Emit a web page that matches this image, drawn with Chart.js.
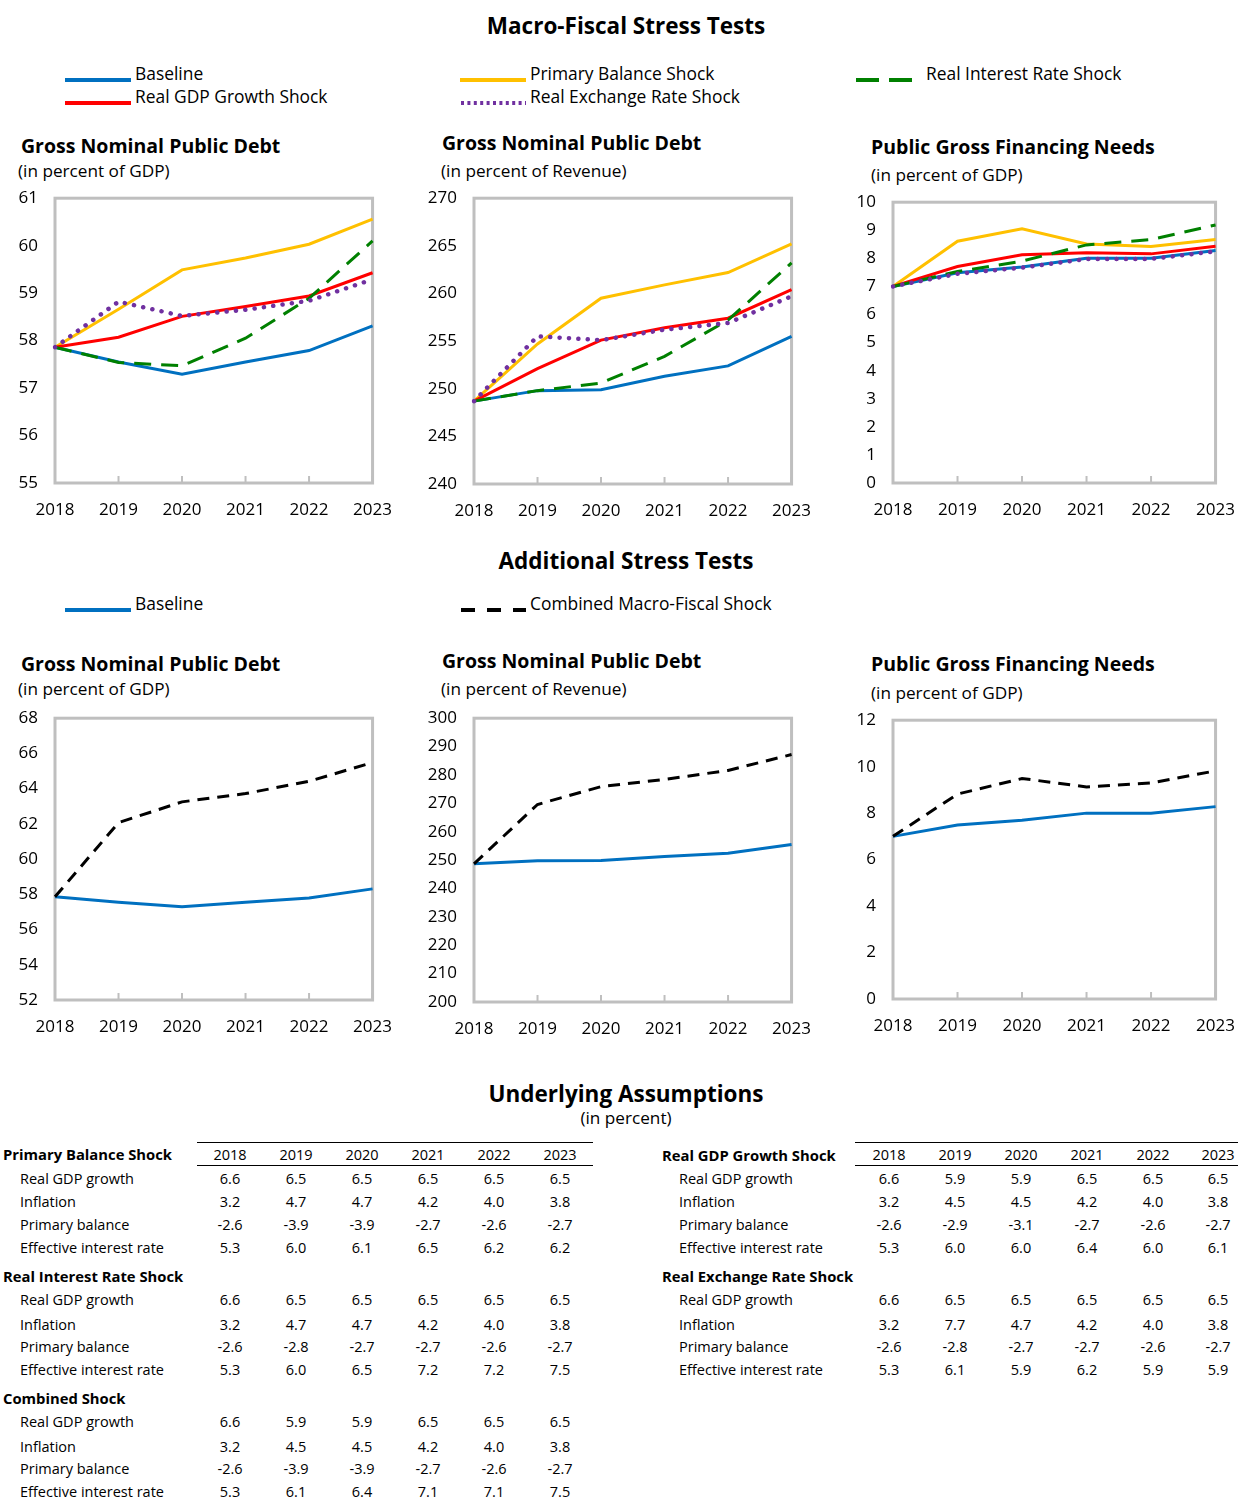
<!DOCTYPE html>
<html>
<head>
<meta charset="utf-8">
<script src="https://cdn.jsdelivr.net/npm/chart.js@4.4.1/dist/chart.umd.min.js"></script>
<style>
  body { margin: 0; background: #fff; font-family: 'Open Sans', sans-serif; color: #000; }
  #page { position: relative; width: 1238px; height: 1505px; overflow: hidden; }
  .t { position: absolute; white-space: nowrap; transform: translateY(-50%); line-height: 1.2; }
  .c { left: 7px; width: 1238px; text-align: center; }
  .h1 { font-size: 22.5px; font-weight: bold; }
  .h2 { font-size: 19.5px; font-weight: bold; }
  .sub { font-size: 17.2px; }
  .leg { font-size: 17.4px; }
  .tb { font-size: 14.5px; }
  .tbh { font-size: 14.8px; font-weight: bold; }
  .num { width: 60px; margin-left: -30px; text-align: center; }
  .chart { position: absolute; }
  .rule { position: absolute; height: 0; border-top: 1.5px solid #000; }
  .sw { position: absolute; }
</style>
</head>
<body>
<div id="page"></div>
<script>
const years = ['2018', '2019', '2020', '2021', '2022', '2023'];

// Gross nominal public debt, percent of GDP
const debtGdpBaseline = [57.86, 57.55, 57.29, 57.55, 57.79, 58.31];
const debtGdpPrimary  = [57.86, 58.66, 59.49, 59.74, 60.03, 60.56];
const debtGdpGrowth   = [57.86, 58.07, 58.51, 58.72, 58.94, 59.43];
const debtGdpInterest = [57.86, 57.54, 57.47, 58.05, 58.89, 60.10];
const debtGdpExchange = [57.86, 58.82, 58.52, 58.65, 58.84, 59.29];
const debtGdpCombined = [57.86, 62.07, 63.25, 63.72, 64.42, 65.48];

// Gross nominal public debt, percent of revenue
const debtRevBaseline = [248.7, 249.8, 249.9, 251.3, 252.4, 255.5];
const debtRevPrimary  = [248.7, 254.7, 259.5, 260.9, 262.2, 265.2];
const debtRevGrowth   = [248.7, 252.1, 255.1, 256.4, 257.4, 260.4];
const debtRevInterest = [248.7, 249.8, 250.6, 253.4, 257.2, 263.2];
const debtRevExchange = [248.7, 255.5, 255.1, 256.2, 256.9, 259.7];
const debtRevCombined = [248.7, 269.6, 275.9, 278.4, 281.6, 287.2];

// Public gross financing needs, percent of GDP
const gfnBaseline = [7.0, 7.49, 7.69, 8.0, 8.0, 8.28];
const gfnPrimary  = [7.0, 8.61, 9.05, 8.51, 8.42, 8.67];
const gfnGrowth   = [7.0, 7.71, 8.13, 8.20, 8.16, 8.43];
const gfnInterest = [7.0, 7.53, 7.90, 8.48, 8.67, 9.19];
const gfnExchange = [7.0, 7.45, 7.67, 7.98, 7.98, 8.25];
const gfnCombined = [7.0, 8.82, 9.49, 9.13, 9.30, 9.82];

// Underlying assumptions
const rowLabels = ['Real GDP growth', 'Inflation', 'Primary balance', 'Effective interest rate'];
const pbGrowth = [6.6, 6.5, 6.5, 6.5, 6.5, 6.5];
const pbInflation = [3.2, 4.7, 4.7, 4.2, 4.0, 3.8];
const pbPrimary = [-2.6, -3.9, -3.9, -2.7, -2.6, -2.7];
const pbInterest = [5.3, 6.0, 6.1, 6.5, 6.2, 6.2];
const riGrowth = [6.6, 6.5, 6.5, 6.5, 6.5, 6.5];
const riInflation = [3.2, 4.7, 4.7, 4.2, 4.0, 3.8];
const riPrimary = [-2.6, -2.8, -2.7, -2.7, -2.6, -2.7];
const riInterest = [5.3, 6.0, 6.5, 7.2, 7.2, 7.5];
const cbGrowth = [6.6, 5.9, 5.9, 6.5, 6.5, 6.5];
const cbInflation = [3.2, 4.5, 4.5, 4.2, 4.0, 3.8];
const cbPrimary = [-2.6, -3.9, -3.9, -2.7, -2.6, -2.7];
const cbInterest = [5.3, 6.1, 6.4, 7.1, 7.1, 7.5];
const rgGrowth = [6.6, 5.9, 5.9, 6.5, 6.5, 6.5];
const rgInflation = [3.2, 4.5, 4.5, 4.2, 4.0, 3.8];
const rgPrimary = [-2.6, -2.9, -3.1, -2.7, -2.6, -2.7];
const rgInterest = [5.3, 6.0, 6.0, 6.4, 6.0, 6.1];
const reGrowth = [6.6, 6.5, 6.5, 6.5, 6.5, 6.5];
const reInflation = [3.2, 7.7, 4.7, 4.2, 4.0, 3.8];
const rePrimary = [-2.6, -2.8, -2.7, -2.7, -2.6, -2.7];
const reInterest = [5.3, 6.1, 5.9, 6.2, 5.9, 5.9];

const page = document.getElementById('page');

function text(str, cls, x, y) {
  const d = document.createElement('div');
  d.className = 't ' + cls;
  d.textContent = str;
  if (x !== null) d.style.left = x + 'px';
  d.style.top = y + 'px';
  page.appendChild(d);
  return d;
}

function swatch(x, y, color, width, dash) {
  const d = document.createElement('div');
  d.className = 'sw';
  d.style.left = x + 'px';
  d.style.top = (y - 5) + 'px';
  d.innerHTML = `<svg width="70" height="10"><line x1="0" y1="5" x2="${width}" y2="5" stroke="${color}" stroke-width="4"${dash ? ` stroke-dasharray="${dash}"` : ''}/></svg>`;
  page.appendChild(d);
}

// headings
text('Macro-Fiscal Stress Tests', 'c h1', null, 25);
text('Additional Stress Tests', 'c h1', null, 560);
text('Underlying Assumptions', 'c h1', null, 1093);
text('(in percent)', 'c sub', null, 1118);

// legends
swatch(65, 73, '#0070C0', 66);
text('Baseline', 'leg', 135, 73);
swatch(65, 96, '#FF0000', 66);
text('Real GDP Growth Shock', 'leg', 135, 96);
swatch(460, 73, '#FFC000', 66);
text('Primary Balance Shock', 'leg', 530, 73);
swatch(461, 96, '#7030A0', 65, '3 3.4');
text('Real Exchange Rate Shock', 'leg', 530, 96);
swatch(856, 73, '#008000', 56, '23 10');
text('Real Interest Rate Shock', 'leg', 926, 73);
swatch(65, 603, '#0070C0', 66);
text('Baseline', 'leg', 135, 603);
swatch(461, 603, '#000000', 65, '14 12');
text('Combined Macro-Fiscal Shock', 'leg', 530, 603);

// chart titles
const titles = [
  ['Gross Nominal Public Debt', '(in percent of GDP)', 21, 146, 18, 171],
  ['Gross Nominal Public Debt', '(in percent of Revenue)', 442, 143, 441, 171],
  ['Public Gross Financing Needs', '(in percent of GDP)', 871, 147, 871, 175],
  ['Gross Nominal Public Debt', '(in percent of GDP)', 21, 664, 18, 689],
  ['Gross Nominal Public Debt', '(in percent of Revenue)', 442, 661, 441, 689],
  ['Public Gross Financing Needs', '(in percent of GDP)', 871, 664, 871, 693]
];
titles.forEach(([a, b, x1, y1, x2, y2]) => {
  text(a, 'h2', x1, y1);
  text(b, 'sub', x2, y2);
});

const styles = {
  baseline: { label: 'Baseline', borderColor: '#0070C0', borderWidth: 3, order: 5 },
  primary: { label: 'Primary Balance Shock', borderColor: '#FFC000', borderWidth: 3, order: 4 },
  growth: { label: 'Real GDP Growth Shock', borderColor: '#FF0000', borderWidth: 3, order: 3 },
  interest: { label: 'Real Interest Rate Shock', borderColor: '#008000', borderWidth: 3, borderDash: [17, 10], order: 2 },
  exchange: { label: 'Real Exchange Rate Shock', borderColor: '#7030A0', borderWidth: 4.5, borderDash: [0.1, 9.3], borderCapStyle: 'round', order: 1 },
  combined: { label: 'Combined Macro-Fiscal Shock', borderColor: '#000000', borderWidth: 3, borderDash: [12, 8], order: 1 }
};

const framePlugin = {
  id: 'frame',
  beforeDatasetsDraw(chart) {
    const { ctx, chartArea: a, scales: { x } } = chart;
    ctx.save();
    ctx.strokeStyle = '#bfbfbf';
    ctx.lineWidth = 3;
    ctx.strokeRect(a.left, a.top, a.right - a.left, a.bottom - a.top);
    ctx.lineWidth = 2;
    x.ticks.forEach((t, i) => {
      const px = x.getPixelForTick(i);
      ctx.beginPath();
      ctx.moveTo(px, a.bottom);
      ctx.lineTo(px, a.bottom - 7);
      ctx.stroke();
    });
    ctx.restore();
  }
};

const panels = [
  { box: [55, 198, 373, 483], min: 55, max: 61, step: 1,
    sets: { baseline: debtGdpBaseline, primary: debtGdpPrimary, growth: debtGdpGrowth, interest: debtGdpInterest, exchange: debtGdpExchange } },
  { box: [474, 198, 792, 484], min: 240, max: 270, step: 5,
    sets: { baseline: debtRevBaseline, primary: debtRevPrimary, growth: debtRevGrowth, interest: debtRevInterest, exchange: debtRevExchange } },
  { box: [893, 202, 1216, 483], min: 0, max: 10, step: 1,
    sets: { baseline: gfnBaseline, primary: gfnPrimary, growth: gfnGrowth, interest: gfnInterest, exchange: gfnExchange } },
  { box: [55, 718, 373, 1000], min: 52, max: 68, step: 2,
    sets: { baseline: debtGdpBaseline, combined: debtGdpCombined } },
  { box: [474, 718, 792, 1002], min: 200, max: 300, step: 10,
    sets: { baseline: debtRevBaseline, combined: debtRevCombined } },
  { box: [893, 720, 1216, 999], min: 0, max: 12, step: 2,
    sets: { baseline: gfnBaseline, combined: gfnCombined } }
];

const AXW = 60, AXH = 44, PADT = 15, PADR = 25;
const tickFont = { family: "'Open Sans', sans-serif", size: 17 };

function makeConfig(p) {
  const datasets = Object.keys(p.sets).map(k => Object.assign({
    data: p.sets[k],
    pointRadius: 0,
    tension: 0,
    fill: false
  }, styles[k]));
  return {
    type: 'line',
    data: { labels: years, datasets },
    options: {
      responsive: false,
      animation: false,
      layout: { padding: { top: PADT, right: PADR, left: 0, bottom: 0 } },
      plugins: { legend: { display: false }, tooltip: { enabled: false } },
      scales: {
        x: {
          offset: false,
          grid: { display: false, drawTicks: false },
          border: { display: false },
          ticks: { color: '#000', font: tickFont, padding: 17, maxRotation: 0, autoSkip: false },
          afterFit(s) { s.height = AXH; }
        },
        y: {
          min: p.min,
          max: p.max,
          grid: { display: false, drawTicks: false },
          border: { display: false },
          ticks: { color: '#000', font: tickFont, padding: 17, stepSize: p.step },
          afterFit(s) { s.width = AXW; }
        }
      }
    },
    plugins: [framePlugin]
  };
}

panels.forEach(p => {
  const [l, t, r, b] = p.box;
  const canvas = document.createElement('canvas');
  canvas.className = 'chart';
  let w = r - l + AXW + PADR;
  let h = b - t + PADT + AXH;
  canvas.width = w;
  canvas.height = h;
  page.appendChild(canvas);
  // first pass: measure where the plot area lands, then size the canvas so it matches the box
  let chart = new Chart(canvas.getContext('2d'), makeConfig(p));
  const a = chart.chartArea;
  chart.destroy();
  w += (r - l) - (a.right - a.left);
  h += (b - t) - (a.bottom - a.top);
  canvas.width = w;
  canvas.height = h;
  canvas.style.width = w + 'px';
  canvas.style.height = h + 'px';
  chart = new Chart(canvas.getContext('2d'), makeConfig(p));
  const a2 = chart.chartArea;
  canvas.style.left = (l - a2.left) + 'px';
  canvas.style.top = (t - a2.top) + 'px';
});

// tables
function table(cfg) {
  const rule1 = document.createElement('div');
  rule1.className = 'rule';
  rule1.style.left = cfg.lineX[0] + 'px';
  rule1.style.width = (cfg.lineX[1] - cfg.lineX[0]) + 'px';
  rule1.style.top = '1142px';
  page.appendChild(rule1);
  const rule2 = rule1.cloneNode();
  rule2.style.top = '1165px';
  page.appendChild(rule2);
  years.forEach((yr, i) => text(yr, 'tb num', cfg.cols[i], 1155));
  cfg.sections.forEach(sec => {
    text(sec.title, 'tbh', cfg.headX, sec.y);
    sec.rows.forEach((arr, j) => {
      const y = sec.rowY[j];
      text(rowLabels[j], 'tb', cfg.headX + 17, y);
      arr.forEach((v, i) => text(v.toFixed(1), 'tb num', cfg.cols[i], y));
    });
  });
}

const rowsA = [1179, 1202, 1225, 1248];
const rowsB = [1300, 1325, 1347, 1370];
const rowsC = [1422, 1447, 1469, 1492];

table({
  headX: 3,
  lineX: [197, 593],
  cols: [230, 296, 362, 428, 494, 560],
  sections: [
    { title: 'Primary Balance Shock', y: 1155, rows: [pbGrowth, pbInflation, pbPrimary, pbInterest], rowY: rowsA },
    { title: 'Real Interest Rate Shock', y: 1277, rows: [riGrowth, riInflation, riPrimary, riInterest], rowY: rowsB },
    { title: 'Combined Shock', y: 1399, rows: [cbGrowth, cbInflation, cbPrimary, cbInterest], rowY: rowsC }
  ]
});

table({
  headX: 662,
  lineX: [855, 1238],
  cols: [889, 955, 1021, 1087, 1153, 1218],
  sections: [
    { title: 'Real GDP Growth Shock', y: 1156, rows: [rgGrowth, rgInflation, rgPrimary, rgInterest], rowY: rowsA },
    { title: 'Real Exchange Rate Shock', y: 1277, rows: [reGrowth, reInflation, rePrimary, reInterest], rowY: rowsB }
  ]
});
</script>
</body>
</html>
